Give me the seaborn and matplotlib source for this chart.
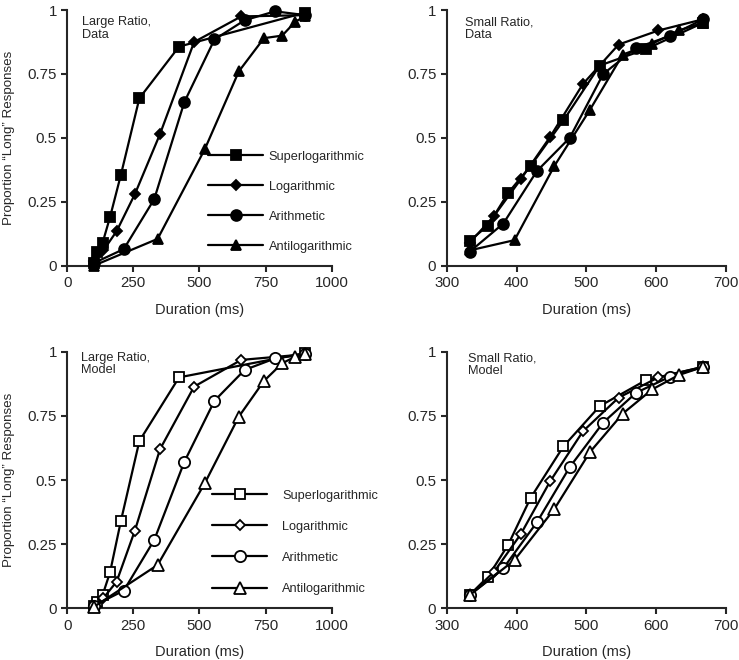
"""
Proportion of "long" responses against stimulus duration, data and model, large and small ratio
"""
import matplotlib
matplotlib.use('Agg')
import matplotlib.pyplot as plt
import pandas as pd
import seaborn as sns

# spacing conditions
conditions = ['Superlogarithmic', 'Logarithmic', 'Arithmetic', 'Antilogarithmic']

# stimulus durations (ms), large ratio (100-900)
large_superlog_ms = [100, 111, 134, 162, 203, 273, 423, 900]
large_log_ms = [100, 137, 187, 256, 351, 480, 658, 900]
large_arith_ms = [100, 214, 329, 443, 557, 671, 786, 900]
large_antilog_ms = [100, 342, 520, 649, 744, 813, 863, 900]

# stimulus durations (ms), small ratio (333-667)
small_superlog_ms = [333, 359, 388, 420, 467, 519, 585, 667]
small_log_ms = [333, 368, 406, 448, 495, 546, 603, 667]
small_arith_ms = [333, 381, 429, 476, 524, 571, 619, 667]
small_antilog_ms = [333, 397, 454, 505, 552, 594, 632, 667]

# proportion "long", large ratio data
large_data_superlog = [0.01, 0.055, 0.09, 0.19, 0.355, 0.655, 0.857, 0.99]
large_data_log = [0.02, 0.06, 0.135, 0.28, 0.515, 0.875, 0.975, 0.98]
large_data_arith = [0.01, 0.065, 0.26, 0.64, 0.885, 0.96, 0.995, 0.98]
large_data_antilog = [0.0, 0.105, 0.455, 0.76, 0.89, 0.9, 0.955, 0.975]

# proportion "long", small ratio data
small_data_superlog = [0.098, 0.157, 0.285, 0.39, 0.568, 0.783, 0.847, 0.95]
small_data_log = [0.09, 0.196, 0.338, 0.504, 0.711, 0.865, 0.92, 0.964]
small_data_arith = [0.055, 0.165, 0.37, 0.50, 0.75, 0.852, 0.898, 0.964]
small_data_antilog = [0.06, 0.10, 0.39, 0.61, 0.826, 0.868, 0.92, 0.95]

# proportion "long", large ratio model
large_model_superlog = [0.01, 0.025, 0.052, 0.14, 0.34, 0.652, 0.9, 0.995]
large_model_log = [0.01, 0.04, 0.104, 0.303, 0.62, 0.864, 0.968, 0.99]
large_model_arith = [0.01, 0.069, 0.266, 0.571, 0.809, 0.929, 0.974, 0.99]
large_model_antilog = [0.005, 0.169, 0.487, 0.747, 0.886, 0.955, 0.981, 0.99]

# proportion "long", small ratio model
small_model_superlog = [0.052, 0.123, 0.248, 0.43, 0.631, 0.788, 0.889, 0.941]
small_model_log = [0.052, 0.143, 0.289, 0.495, 0.69, 0.821, 0.9, 0.941]
small_model_arith = [0.052, 0.156, 0.335, 0.55, 0.724, 0.84, 0.902, 0.941]
small_model_antilog = [0.052, 0.188, 0.387, 0.609, 0.759, 0.853, 0.909, 0.941]

y_ticks = [0, 0.25, 0.5, 0.75, 1]
y_tick_labels = ['0', '0.25', '0.5', '0.75', '1']
large_x_ticks = [0, 250, 500, 750, 1000]
small_x_ticks = [300, 400, 500, 600, 700]

MARKERS = {'Superlogarithmic': ('s', 7.4), 'Logarithmic': ('D', 5.0),
           'Arithmetic': ('o', 7.8), 'Antilogarithmic': ('^', 7.8)}

sns.set_style('ticks')
plt.rcParams['font.family'] = ['Liberation Sans', 'DejaVu Sans']


def make_frame(xs, ys):
	rows = []
	for cond, x, y in zip(conditions, xs, ys):
		for xi, yi in zip(x, y):
			rows.append((cond, xi, yi))
	return pd.DataFrame(rows, columns=['spacing', 'duration', 'p_long'])


def draw_panel(ax, df, filled, title, x_ticks, show_ylabel, legend_at=None):
	for cond in conditions:
		sub = df[df['spacing'] == cond]
		marker, size = MARKERS[cond]
		sns.lineplot(data=sub, x='duration', y='p_long', ax=ax, color='black', lw=1.6,
		             marker=marker, markersize=size if filled else size + 0.3,
		             markerfacecolor='black' if filled else 'white',
		             markeredgecolor='black', markeredgewidth=1.3,
		             label=cond, legend=False, clip_on=False, zorder=3)
	ax.set_xlim(x_ticks[0], x_ticks[-1])
	ax.set_ylim(0, 1)
	ax.set_xticks(x_ticks)
	ax.set_xticklabels([str(t) for t in x_ticks], fontsize=10.8)
	ax.set_yticks(y_ticks)
	ax.set_yticklabels(y_tick_labels, fontsize=10.8)
	ax.set_xlabel('Duration (ms)', fontsize=10.5, labelpad=9)
	if show_ylabel:
		ax.set_ylabel('Proportion \u201cLong\u201d Responses', fontsize=9.6, labelpad=9)
	else:
		ax.set_ylabel('')
	sns.despine(ax=ax)
	for side in ['left', 'bottom']:
		ax.spines[side].set_linewidth(1.5)
	ax.tick_params(direction='out', length=4, width=1.5, pad=3.5)
	ax.text(title[1], title[2], title[0], transform=ax.transAxes, ha='left', va='top',
	        fontsize=9.2, linespacing=1.05)
	if legend_at is not None:
		ax.legend(loc='center left', bbox_to_anchor=legend_at[:2], frameon=False,
		          fontsize=9.2, handlelength=4.3, handletextpad=legend_at[2],
		          labelspacing=legend_at[3], numpoints=1, borderpad=0, borderaxespad=0)


fig = plt.figure(figsize=(7.39, 6.6), dpi=100)
ax_tl = fig.add_axes([0.0909, 0.5974, 0.3579, 0.3874])
ax_tr = fig.add_axes([0.6045, 0.5974, 0.3782, 0.3874])
ax_bl = fig.add_axes([0.0909, 0.0783, 0.3579, 0.3888])
ax_br = fig.add_axes([0.6045, 0.0783, 0.3782, 0.3888])

large_ms = [large_superlog_ms, large_log_ms, large_arith_ms, large_antilog_ms]
small_ms = [small_superlog_ms, small_log_ms, small_arith_ms, small_antilog_ms]

draw_panel(ax_tl, make_frame(large_ms, [large_data_superlog, large_data_log, large_data_arith, large_data_antilog]),
           True, ('Large Ratio,\nData', 0.055, 0.975), large_x_ticks, True, (0.533, 0.25, 0.45, 1.4))
draw_panel(ax_tr, make_frame(small_ms, [small_data_superlog, small_data_log, small_data_arith, small_data_antilog]),
           True, ('Small Ratio,\nData', 0.065, 0.975), small_x_ticks, False)
draw_panel(ax_bl, make_frame(large_ms, [large_model_superlog, large_model_log, large_model_arith, large_model_antilog]),
           False, ('Large Ratio,\nModel', 0.051, 1.0), large_x_ticks, True, (0.549, 0.257, 1.15, 1.5))
draw_panel(ax_br, make_frame(small_ms, [small_model_superlog, small_model_log, small_model_arith, small_model_antilog]),
           False, ('Small Ratio,\nModel', 0.075, 0.995), small_x_ticks, False)

fig.savefig('out.png', dpi=100)
